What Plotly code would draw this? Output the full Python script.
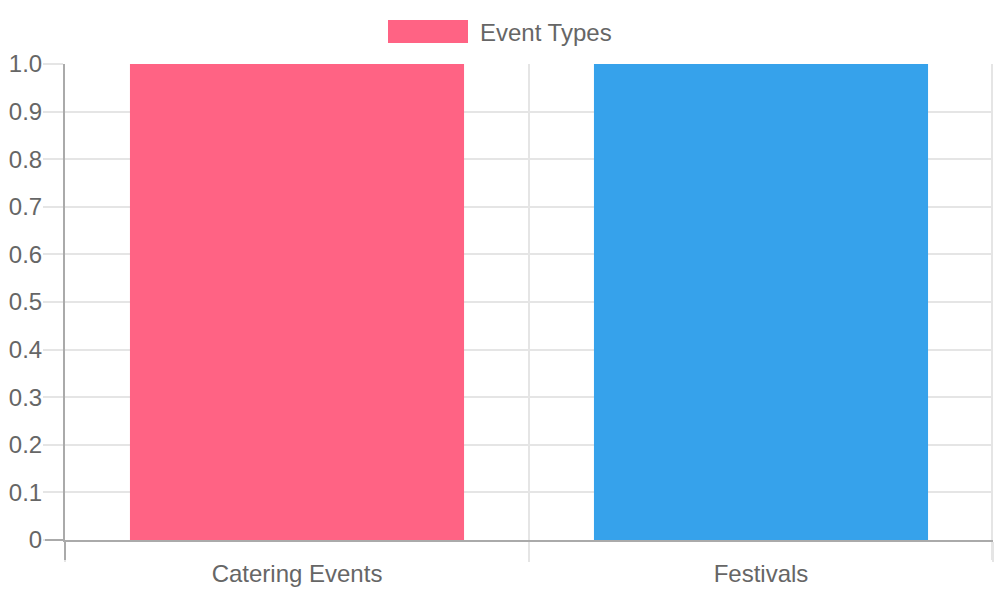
import plotly.graph_objects as go

categories = ["Catering Events", "Festivals"]
values = [1, 1]
bar_colors = ["#FF6384", "#36A2EB"]
series_name = "Event Types"
y_tick_vals = [0, 0.1, 0.2, 0.3, 0.4, 0.5, 0.6, 0.7, 0.8, 0.9, 1.0]
y_tick_text = ["0", "0.1", "0.2", "0.3", "0.4", "0.5", "0.6", "0.7", "0.8", "0.9", "1.0"]

W, H = 1000, 600
L, R, T, B = 65, 7, 64, 60
pw, ph = W - L - R, H - T - B

def px(x):
    return (x - L) / pw

def py(y):
    return 1 + (T - y) / ph

xs = list(range(len(categories)))

fig = go.Figure()
fig.add_trace(go.Bar(
    x=xs, y=values, width=0.72, marker=dict(color=bar_colors, line=dict(width=0)),
    name=series_name, showlegend=False,
))

font_color = "#666666"
grid_color = "#e5e5e5"
axis_color = "#aaaaaa"

fig.update_layout(
    width=W, height=H,
    margin=dict(l=L, r=R, t=T, b=B),
    paper_bgcolor="white", plot_bgcolor="white",
    font=dict(family="Liberation Sans, Arial, sans-serif", size=24, color=font_color),
    xaxis=dict(
        range=[-0.5, len(categories) - 0.5],
        tickvals=xs, ticktext=categories,
        showgrid=False, ticks="", zeroline=False,
        showline=True, linecolor=axis_color, linewidth=2,
        minor=dict(tickvals=[i - 0.5 for i in range(len(categories) + 1)],
                   showgrid=True, gridcolor=grid_color, gridwidth=2,
                   ticks="outside", ticklen=20, tickcolor=grid_color, tickwidth=2),
        tickfont=dict(size=24, color=font_color),
        ticklabelstandoff=11,
        fixedrange=True,
    ),
    yaxis=dict(
        range=[0, 1], tickvals=y_tick_vals, ticktext=y_tick_text,
        showgrid=True, gridcolor=grid_color, gridwidth=2,
        ticks="outside", ticklen=20, tickcolor=grid_color, tickwidth=2,
        zeroline=False, showline=True, linecolor=axis_color, linewidth=2,
        tickfont=dict(size=24, color=font_color),
        ticklabelstandoff=-4,
        fixedrange=True,
    ),
    shapes=[
        dict(type="rect", xref="paper", yref="paper",
             x0=px(388), x1=px(468), y0=py(43), y1=py(20),
             fillcolor=bar_colors[0], line=dict(width=0)),
        dict(type="line", xref="paper", yref="paper",
             x0=1 - 1 / pw, x1=1 - 1 / pw, y0=-20 / ph, y1=1,
             line=dict(color=grid_color, width=2), layer="below"),
        dict(type="line", xref="paper", yref="paper",
             x0=0, x1=0, y0=0, y1=-20 / ph,
             line=dict(color=axis_color, width=2)),
        dict(type="line", xref="paper", yref="paper",
             x0=-20 / pw, x1=0, y0=0, y1=0,
             line=dict(color=axis_color, width=2)),
    ],
    annotations=[dict(text=series_name, xref="paper", yref="paper",
                      x=px(478), y=py(32), xanchor="left", yanchor="middle",
                      showarrow=False, font=dict(size=24, color=font_color))],
)

fig.write_html("out.html")
